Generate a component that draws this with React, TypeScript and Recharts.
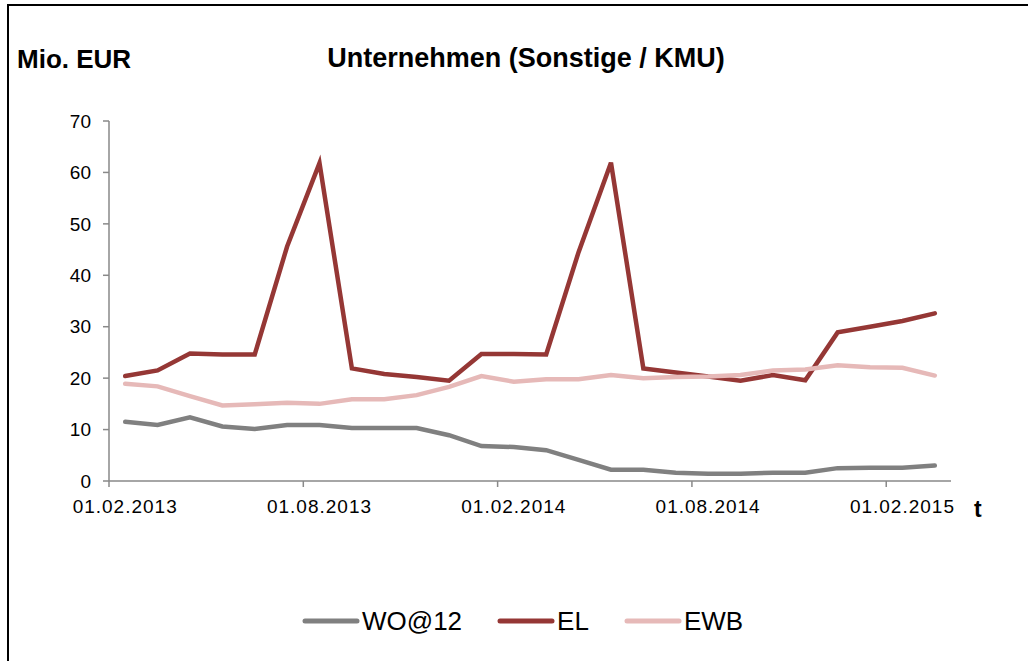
import React from 'react';
import { LineChart, Line, XAxis, YAxis, Legend } from 'recharts';

const dates = [
  '01.02.2013', '01.03.2013', '01.04.2013', '01.05.2013', '01.06.2013', '01.07.2013',
  '01.08.2013', '01.09.2013', '01.10.2013', '01.11.2013', '01.12.2013', '01.01.2014',
  '01.02.2014', '01.03.2014', '01.04.2014', '01.05.2014', '01.06.2014', '01.07.2014',
  '01.08.2014', '01.09.2014', '01.10.2014', '01.11.2014', '01.12.2014', '01.01.2015',
  '01.02.2015', '01.03.2015',
];

const wo12 = [11.5, 10.9, 12.4, 10.6, 10.1, 10.9, 10.9, 10.3, 10.3, 10.3, 8.9, 6.8, 6.6, 6.0, 4.1, 2.2, 2.2, 1.6, 1.4, 1.4, 1.6, 1.6, 2.5, 2.6, 2.6, 3.0];
const el = [20.4, 21.5, 24.8, 24.6, 24.6, 45.6, 61.8, 21.9, 20.8, 20.2, 19.5, 24.7, 24.7, 24.6, 44.5, 61.9, 21.9, 21.1, 20.3, 19.5, 20.6, 19.6, 28.9, 30.0, 31.1, 32.6];
const ewb = [18.9, 18.4, 16.5, 14.7, 14.9, 15.2, 15.0, 15.9, 15.9, 16.7, 18.3, 20.4, 19.3, 19.8, 19.8, 20.6, 20.0, 20.2, 20.3, 20.6, 21.5, 21.7, 22.5, 22.1, 22.0, 20.5];

const yTicks = [0, 10, 20, 30, 40, 50, 60, 70];

const series = [
  { key: 'wo12', name: 'WO@12', color: '#808080' },
  { key: 'el', name: 'EL', color: '#953735' },
  { key: 'ewb', name: 'EWB', color: '#E6B9B8' },
];

const data = dates.map((d, i) => ({ date: d, wo12: wo12[i], el: el[i], ewb: ewb[i] }));

const FONT = '"Liberation Sans", Arial, sans-serif';
const AXIS = '#898989';
const W = 1028;
const H = 661;
const PLOT_W = 842;
const HALF_BAND = PLOT_W / dates.length / 2;

// excel style: tick mark on the category boundary, label on the category centre
const DateTick = (props: any) => {
  const { x, y, payload } = props;
  return (
    <g>
      <line x1={x - HALF_BAND} x2={x - HALF_BAND} y1={y} y2={y + 6} stroke={AXIS} strokeWidth={1.5} />
      <text x={x} y={y + 32} textAnchor="middle" fontSize={19} letterSpacing={1} fill="#000" fontFamily={FONT}>
        {payload.value}
      </text>
    </g>
  );
};

const LegendBox = () => (
  <div style={{ display: 'flex', alignItems: 'center', fontFamily: FONT, fontSize: 26, color: '#000' }}>
    {series.map((s, i) => (
      <div key={s.key} style={{ display: 'flex', alignItems: 'center', marginRight: i < series.length - 1 ? 35 : 0 }}>
        <svg width={58} height={10} style={{ display: 'block' }}>
          <line x1={3} x2={55} y1={5} y2={5} stroke={s.color} strokeWidth={5} strokeLinecap="round" />
        </svg>
        <span style={{ marginLeft: 2, lineHeight: '28px' }}>{s.name}</span>
      </div>
    ))}
  </div>
);

const App = () => {
  return (
    <div style={{ position: 'fixed', left: 0, top: 0, width: W, height: H, overflow: 'hidden', background: '#fff', fontFamily: FONT }}>
      <div style={{ position: 'absolute', left: 7, top: 4, width: W + 10, height: H + 10, borderTop: '2px solid #000', borderLeft: '2px solid #000' }} />
      <div style={{ position: 'absolute', left: 17, top: 46, fontSize: 26, lineHeight: '26px', fontWeight: 'bold' }}>Mio. EUR</div>
      <div style={{ position: 'absolute', left: 0, width: 1052, top: 45, fontSize: 27, lineHeight: '27px', fontWeight: 'bold', textAlign: 'center' }}>
        Unternehmen (Sonstige / KMU)
      </div>
      <div style={{ position: 'absolute', left: 974, top: 498, fontSize: 23, lineHeight: '23px', fontWeight: 'bold' }}>t</div>

      <div style={{ position: 'absolute', left: 0, top: 0 }}>
        <LineChart width={W} height={H} data={data} margin={{ top: 121, right: 77, left: 49, bottom: 150 }}>
          <XAxis
            dataKey="date"
            interval={5}
            tickLine={false}
            tickSize={0}
            tickMargin={0}
            height={30}
            padding={{ left: HALF_BAND, right: HALF_BAND }}
            axisLine={{ stroke: AXIS, strokeWidth: 1.5 }}
            tick={<DateTick />}
          />
          <YAxis
            width={60}
            domain={[0, 70]}
            ticks={yTicks}
            interval={0}
            tickSize={6}
            tickMargin={12}
            axisLine={{ stroke: AXIS, strokeWidth: 1.5 }}
            tickLine={{ stroke: AXIS, strokeWidth: 1.5 }}
            tick={{ fill: '#000', fontSize: 19, fontFamily: FONT }}
          />
          <Legend
            layout="horizontal"
            verticalAlign="middle"
            align="center"
            content={<LegendBox />}
            wrapperStyle={{ top: 607, left: 302, width: 'auto' }}
          />
          {series.map((s) => (
            <Line
              key={s.key}
              type="linear"
              dataKey={s.key}
              name={s.name}
              stroke={s.color}
              strokeWidth={4.5}
              strokeLinecap="round"
              dot={false}
              activeDot={false}
              isAnimationActive={false}
            />
          ))}
        </LineChart>
      </div>
    </div>
  );
};

export default App;
